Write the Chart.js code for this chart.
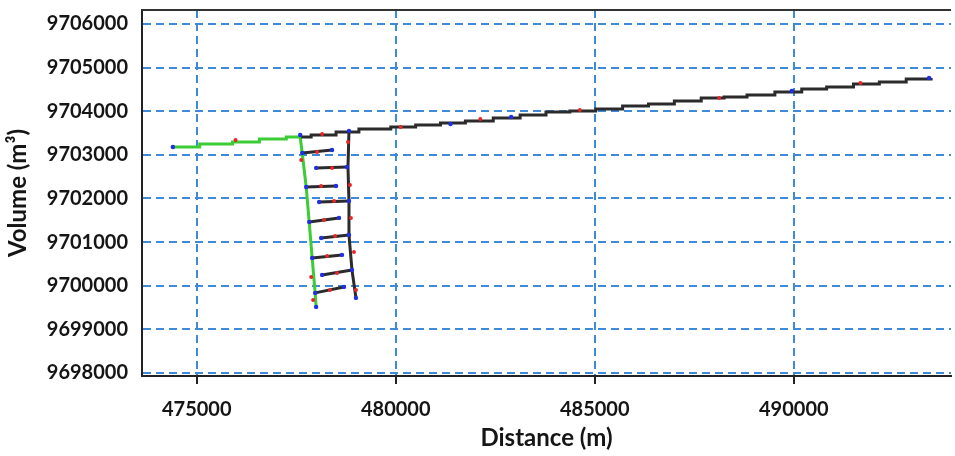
<!DOCTYPE html>
<html>
<head>
<meta charset="utf-8">
<script src="https://cdn.jsdelivr.net/npm/chart.js@4.4.1/dist/chart.umd.min.js"></script>
<style>
  body { margin: 0; background: #fff; }
  canvas { display: block; }
</style>
</head>
<body>
<canvas id="chart1" width="955" height="456"></canvas>
<script>
// tick labels
const xTicks = [475000, 480000, 485000, 490000];
const yTicks = [9698000, 9699000, 9700000, 9701000, 9702000, 9703000, 9704000, 9705000, 9706000];

// main reach (black, stepped)
const mainX = [477625, 477875, 478500, 479075, 479875, 480500, 481125, 481750, 482450, 483125, 483775, 484375, 485025,
               485700, 486350, 487000, 487675, 488250, 488825, 489525, 490200, 490825, 491500, 492150, 492825, 493450];
const mainY = [9703410, 9703456, 9703525, 9703593, 9703639, 9703685, 9703731, 9703777, 9703846, 9703914, 9703983, 9704006, 9704052,
               9704121, 9704166, 9704235, 9704304, 9704327, 9704373, 9704441, 9704510, 9704556, 9704625, 9704671, 9704739, 9704762];

// upstream reach (green)
const greenX = [474400, 475075, 475900, 476575, 477250, 477625];
const greenY = [9703181, 9703250, 9703296, 9703364, 9703410, 9703410];

// left branch going down (green)
const leftX = [477600, 477650, 477750, 477825, 477900, 477975, 478000];
const leftY = [9703410, 9703043, 9702264, 9701462, 9700637, 9699835, 9699514];

// right branch going down (black)
const rightX = [478825, 478800, 478825, 478825, 478900, 479000];
const rightY = [9703548, 9702722, 9701920, 9701164, 9700362, 9699720];

// cross links (start / end of each)
const rungX1 = [477650, 478000, 477750, 478075, 477825, 478125, 477900, 478150, 477975];
const rungY1 = [9703043, 9702700, 9702264, 9701920, 9701462, 9701095, 9700637, 9700247, 9699835];
const rungX2 = [478400, 478775, 478500, 478825, 478575, 478825, 478650, 478900, 478700];
const rungY2 = [9703112, 9702722, 9702287, 9701943, 9701554, 9701164, 9700706, 9700362, 9699972];

// node markers
const blueX = [474400, 477600, 478825, 481375, 482900, 489950, 493400, 479000, 478000];
const blueY = [9703181, 9703456, 9703548, 9703708, 9703868, 9704464, 9704762, 9699720, 9699514];
const redX = [475975, 478150, 480125, 482125, 484625, 488125, 491675, 478800, 478850, 478875, 478950, 479000, 477625, 477875, 477925,
              478025, 478400, 478125, 478450, 478200, 478475, 478275, 478525, 478350];
const redY = [9703341, 9703479, 9703639, 9703823, 9704029, 9704304, 9704648, 9703296, 9702310, 9701554, 9700774, 9699903, 9702883, 9700201, 9699674,
              9703066, 9702700, 9702287, 9701943, 9701508, 9701141, 9700683, 9700293, 9699903];

function pts(xs, ys) {
    return xs.map((x, i) => ({ x: x, y: ys[i] }));
}

const BLACK = '#2b2b2b';
const GREEN = '#3ccc35';
const GRID = '#3f8ad8';
const TEXT = '#151515';

function line(data, color, order, stepped) {
    return {
        data: data,
        showLine: true,
        borderColor: color,
        borderWidth: 3,
        pointRadius: 0,
        stepped: stepped || false,
        order: order
    };
}

const datasets = [];
datasets.push(line(pts(greenX, greenY), GREEN, 5, true));
datasets.push(line(pts(leftX, leftY), GREEN, 5));
datasets.push(line(pts(mainX, mainY), BLACK, 3, true));
datasets.push(line(pts(rightX, rightY), BLACK, 3));
rungX1.forEach((x, i) => {
    datasets.push(line([{ x: x, y: rungY1[i] }, { x: rungX2[i], y: rungY2[i] }], BLACK, 3));
});
// markers on top
datasets.push({ data: pts(redX, redY), pointRadius: 2, pointBackgroundColor: '#e8262a', pointBorderWidth: 0, showLine: false, order: 1 });
datasets.push({ data: pts(blueX, blueY), pointRadius: 2.2, pointBackgroundColor: '#1f2fe6', pointBorderWidth: 0, showLine: false, order: 0 });
rungX1.forEach((x, i) => {
    datasets.push({ data: [{ x: x, y: rungY1[i] }, { x: rungX2[i], y: rungY2[i] }], pointRadius: 2.2,
        pointBackgroundColor: '#1f2fe6', pointBorderWidth: 0, showLine: false, order: 0 });
});

// top frame line
const topLine = {
    id: 'topLine',
    afterDraw(chart) {
        const { ctx, chartArea } = chart;
        ctx.save();
        ctx.strokeStyle = '#333';
        ctx.lineWidth = 2;
        ctx.beginPath();
        ctx.moveTo(chartArea.left, chartArea.top);
        ctx.lineTo(chartArea.right, chartArea.top);
        ctx.stroke();
        ctx.restore();
    }
};

const font = { family: 'Lato', weight: 'bold', size: 20 };
const titleFont = { family: 'Lato', weight: 'bold', size: 24 };

new Chart(document.getElementById('chart1'), {
    type: 'scatter',
    data: { datasets: datasets },
    plugins: [topLine],
    options: {
        responsive: false,
        animation: false,
        devicePixelRatio: 1,
        layout: { padding: { top: 10, right: 0, left: 0, bottom: 0 } },
        plugins: { legend: { display: false }, tooltip: { enabled: false } },
        scales: {
            x: {
                type: 'linear',
                min: 473625,
                max: 493950,
                afterBuildTicks: s => { s.ticks = xTicks.map(v => ({ value: v })); },
                afterFit: s => { s.height = 80; s.paddingLeft = 0; s.paddingRight = 0; },
                ticks: { font: font, color: TEXT, padding: 14, maxRotation: 0, callback: v => String(v) },
                grid: { color: GRID, lineWidth: 2, tickLength: 8, tickColor: '#222', tickWidth: 2 },
                border: { color: '#222', width: 2, dash: [8, 5] },
                title: { display: true, text: 'Distance (m)', font: titleFont, color: TEXT, padding: { top: 0, bottom: 3 } }
            },
            y: {
                type: 'linear',
                min: 9697930,
                max: 9706320,
                afterBuildTicks: s => { s.ticks = yTicks.map(v => ({ value: v })); },
                afterFit: s => { s.width = 142; s.paddingTop = 0; s.paddingBottom = 0; },
                ticks: { font: font, color: TEXT, padding: 14, callback: v => String(v) },
                grid: { color: GRID, lineWidth: 2, drawTicks: false },
                border: { color: '#222', width: 2, dash: [8, 5] },
                title: { display: true, text: 'Volume (m³)', font: titleFont, color: TEXT, padding: { top: 4, bottom: 0 } }
            }
        }
    }
});
</script>
</body>
</html>
